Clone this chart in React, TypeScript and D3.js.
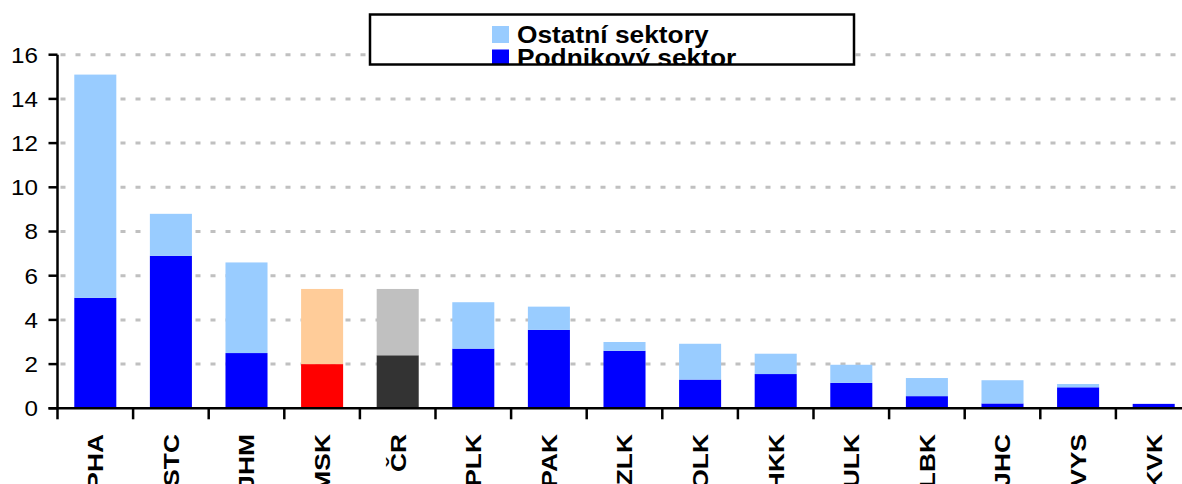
import React from "react";
import * as d3 from "d3";

const categories = ["PHA", "STC", "JHM", "MSK", "ČR", "PLK", "PAK", "ZLK", "OLK", "HKK", "ULK", "LBK", "JHC", "VYS", "KVK"];
const podnikovy = [5.0, 6.9, 2.5, 2.0, 2.4, 2.7, 3.55, 2.6, 1.3, 1.55, 1.15, 0.55, 0.22, 0.95, 0.2];
const ostatni = [10.1, 1.9, 4.1, 3.4, 3.0, 2.1, 1.05, 0.4, 1.62, 0.92, 0.82, 0.82, 1.05, 0.15, 0.0];
const yTicks = [0, 2, 4, 6, 8, 10, 12, 14, 16];
const legendLabels = ["Ostatní sektory", "Podnikový sektor"];

const W = 1182;
const H = 484;
const FONT = "'Liberation Sans', Arial, sans-serif";

const lowColor = (c: string) => (c === "MSK" ? "#FF0000" : c === "ČR" ? "#333333" : "#0000FF");
const highColor = (c: string) => (c === "MSK" ? "#FFCC99" : c === "ČR" ? "#C0C0C0" : "#99CCFF");

export default function App() {
  const left = 57.5;
  const right = 1191.5;
  const x = d3.scaleBand<string>().domain(categories).range([left, right]).paddingInner(0.444).paddingOuter(0.222);
  const y = d3.scaleLinear().domain([0, 16]).range([408.3, 54.7]);
  const step = x.step();
  const stack = d3.stack<any>().keys(["p", "o"])(
    categories.map((c, i) => ({ c, p: podnikovy[i], o: ostatni[i] }))
  );

  return (
    <svg width={W} height={H} style={{ position: "fixed", left: 0, top: 0, background: "#fff" }} fontFamily={FONT}>
      <rect x={0} y={0} width={W} height={H} fill="#fff" />
      {/* gridlines */}
      {yTicks.filter((t) => t > 0).map((t) => (
        <line key={t} x1={left + 3} x2={W} y1={y(t)} y2={y(t)} stroke="#C0C0C0" strokeWidth={3} strokeDasharray="5 10" />
      ))}
      {/* bars */}
      {stack.map((layer, li) =>
        layer.map((d, i) => {
          const c = categories[i];
          const h = y(d[0]) - y(d[1]);
          if (h <= 0) return null;
          return (
            <rect
              key={li + "-" + c}
              x={x(c)}
              width={x.bandwidth()}
              y={y(d[1])}
              height={h}
              fill={li === 0 ? lowColor(c) : highColor(c)}
            />
          );
        })
      )}
      {/* y axis */}
      <line x1={left} x2={left} y1={y(16)} y2={y(0) + 1} stroke="#000" strokeWidth={2.5} />
      {yTicks.map((t) => (
        <g key={t}>
          <line x1={left - 9} x2={left} y1={y(t)} y2={y(t)} stroke="#000" strokeWidth={2.5} />
          <text
            transform={`translate(38,${y(t)}) scale(1.1,1)`}
            textAnchor="end"
            dy="0.36em"
            fontSize={22}
            fill="#000"
          >
            {t}
          </text>
        </g>
      ))}
      {/* x axis */}
      <line x1={left - 9} x2={W} y1={y(0)} y2={y(0)} stroke="#000" strokeWidth={2.5} />
      {d3.range(categories.length + 1).map((i) => (
        <line key={i} x1={left + i * step} x2={left + i * step} y1={y(0)} y2={y(0) + 11} stroke="#000" strokeWidth={2.5} />
      ))}
      {categories.map((c) => (
        <text
          key={c}
          transform={`translate(${(x(c) as number) + x.bandwidth() / 2},434) rotate(-90) scale(1.2,1)`}
          textAnchor="end"
          dy="0.36em"
          fontSize={22}
          fontWeight="bold"
          fill="#000"
        >
          {c}
        </text>
      ))}
      {/* legend */}
      <defs>
        <clipPath id="legclip">
          <rect x={370} y={14} width={484} height={50} />
        </clipPath>
      </defs>
      <rect x={370} y={14.5} width={484} height={50} fill="#fff" stroke="none" />
      <g clipPath="url(#legclip)">
        {legendLabels.map((l, i) => (
          <g key={l}>
            <rect x={492} y={26 + i * 23.5} width={17} height={17} fill={i === 0 ? "#99CCFF" : "#0000FF"} />
            <text
              transform={`translate(517,${42.5 + i * 23.5}) scale(1.12,1)`}
              fontSize={23.5}
              fontWeight="bold"
              fill="#000"
            >
              {l}
            </text>
          </g>
        ))}
      </g>
      <rect x={370} y={14.5} width={484} height={50} fill="none" stroke="#000" strokeWidth={2.5} />
    </svg>
  );
}
